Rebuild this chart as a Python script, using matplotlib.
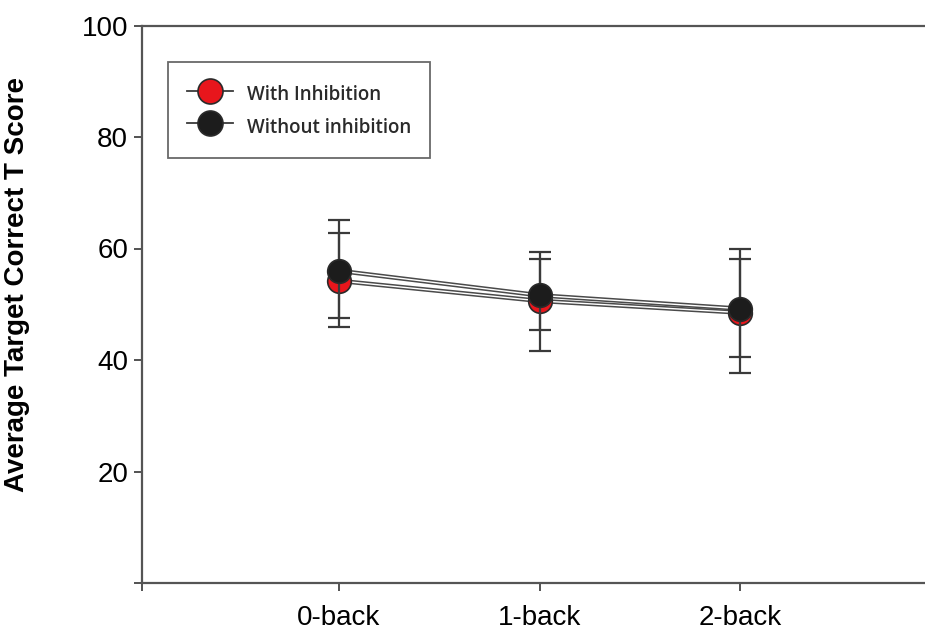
import numpy as np
import matplotlib
matplotlib.use('Agg')
import matplotlib.pyplot as plt
import matplotlib.patheffects as pe

# datos
tareas = ['0-back', '1-back', '2-back']
con_inhib = [54.2, 50.6, 48.5]
con_inhib_sup = [62.7, 58.2, 58.2]
con_inhib_inf = [45.9, 41.6, 37.6]
sin_inhib = [56.0, 51.6, 49.2]
sin_inhib_sup = [65.1, 59.3, 59.9]
sin_inhib_inf = [47.6, 45.4, 40.6]
yticks = [0, 20, 40, 60, 80, 100]
ytick_labels = ['', '20', '40', '60', '80', '100']

plt.rcParams['font.family'] = ['Liberation Sans', 'DejaVu Sans']

fig = plt.figure(figsize=(9.25, 6.42), dpi=100)
ax = fig.add_axes([142/925, 1-583/642, 1-142/925, (583-25.5)/642])

x = np.arange(1, len(tareas)+1)
gris = '#3a3a3a'
linea_doble = [pe.Stroke(linewidth=3.2, foreground='#4a4a4a'), pe.Normal()]

def serie(y, sup, inf, color, etiqueta, z):
    y = np.array(y)
    err = [y-np.array(inf), np.array(sup)-y]
    ax.errorbar(x, y, yerr=err, fmt='none', ecolor=gris, elinewidth=1.6,
                capsize=8, capthick=1.6, zorder=z)
    ax.plot(x, y, '-', color='white', lw=1.0, zorder=z+0.5,
            path_effects=linea_doble)
    ax.plot(x, y, 'o', ms=17, mfc=color, mec='#2a2a2a', mew=1.2, zorder=z+1)
    h, = ax.plot([], [], '-o', color=gris, lw=1.3, ms=18, mfc=color,
                 mec='#2a2a2a', mew=1.2, label=etiqueta)
    return h

h1 = serie(con_inhib, con_inhib_sup, con_inhib_inf, '#e8161c', 'With Inhibition', 3)
h2 = serie(sin_inhib, sin_inhib_sup, sin_inhib_inf, '#1c1c1c', 'Without inhibition', 6)

ax.set_xlim(0.02, 3.92)
ax.set_ylim(0, 100)
ax.set_xticks([0.02, 1, 2, 3])
ax.set_xticklabels([''] + tareas, fontsize=20)
ax.set_yticks(yticks)
ax.set_yticklabels(ytick_labels, fontsize=20)
ax.tick_params(axis='x', direction='out', length=6, width=1.3, color='#444', pad=10)
ax.tick_params(axis='y', direction='out', length=6, width=1.3, color='#444', pad=4)

for s in ['top', 'left', 'bottom']:
    ax.spines[s].set_color('#555555')
    ax.spines[s].set_linewidth(1.6)
ax.spines['right'].set_visible(False)

ax.set_ylabel('Average Target Correct T Score', fontsize=20, fontweight='bold')
ax.yaxis.set_label_coords(-0.143, 0.535)

leg = ax.legend(handles=[h1, h2], loc='upper left', bbox_to_anchor=(0.033, 0.934),
                frameon=True, fancybox=False, edgecolor='#444444',
                prop={'family': 'Open Sans', 'size': 13.5, 'weight': 'semibold'},
                handlelength=2.5, handleheight=1.8, borderpad=1.0,
                labelspacing=0.3, handletextpad=0.7, borderaxespad=0)
leg.get_frame().set_linewidth(1.3)
for t in leg.get_texts():
    t.set_color('#2a2a2a')

fig.savefig('out.png', dpi=100)
